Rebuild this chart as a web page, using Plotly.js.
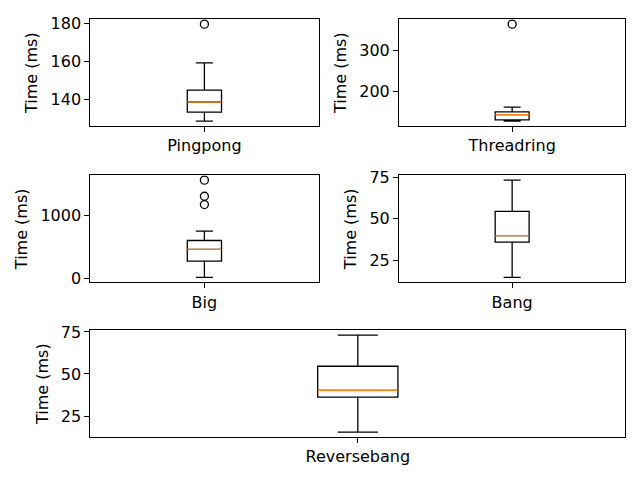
<!DOCTYPE html>
<html>
<head>
<meta charset="utf-8">
<script src="https://cdn.plot.ly/plotly-3.0.1.min.js"></script>
<style>html,body{margin:0;padding:0;background:#fff;}#chart{width:640px;height:480px;}</style>
</head>
<body>
<div id="chart"></div>
<script>
const categories = ['Pingpong', 'Threadring', 'Big', 'Bang', 'Reversebang'];
const q1Values = [133.5, 129.5, 271, 36.1, 36.2];
const medianValues = [138.8, 142.5, 458, 39.9, 40.3];
const q3Values = [145, 149, 601, 54.5, 54.6];
const lowerWhiskers = [128.8, 126.3, 11, 14.9, 15.4];
const upperWhiskers = [159.3, 160.7, 750, 73.2, 73.1];
const outlierValues = [[179.5], [365], [1175, 1308, 1565], [], []];
const yTickSteps = [20, 100, 1000, 25, 25];

const W = 640, H = 480;
// panel placement in pixels [left, right, top, bottom]
const panels = [
  [90.3, 318.5, 19.3, 126],
  [399, 625.3, 19.3, 126],
  [90.3, 318.5, 175.3, 282.3],
  [399, 625.3, 175.3, 282.3],
  [90.3, 625.3, 330.3, 437]
];

const traces = [];
const layout = {
  width: W, height: H,
  margin: {l: 0, r: 0, t: 0, b: 0},
  paper_bgcolor: '#ffffff',
  plot_bgcolor: '#ffffff',
  showlegend: false,
  boxmode: 'overlay',
  font: {family: 'DejaVu Sans', size: 16, color: '#000000'}
};

categories.forEach((cat, i) => {
  const sfx = i === 0 ? '' : String(i + 1);
  const xa = 'x' + sfx, ya = 'y' + sfx;
  traces.push({
    type: 'box', xaxis: xa, yaxis: ya,
    x: [1], q1: [q1Values[i]], median: [medianValues[i]], q3: [q3Values[i]],
    lowerfence: [lowerWhiskers[i]], upperfence: [upperWhiskers[i]],
    width: 0.15, whiskerwidth: 0.5, boxpoints: false,
    fillcolor: 'rgba(0,0,0,0)', line: {color: '#000000', width: 1.3},
    hoverinfo: 'skip'
  });
  traces.push({
    type: 'box', xaxis: xa, yaxis: ya,
    x: [1], q1: [medianValues[i]], median: [medianValues[i]], q3: [medianValues[i]],
    lowerfence: [medianValues[i]], upperfence: [medianValues[i]],
    width: 0.15, whiskerwidth: 0, boxpoints: false,
    fillcolor: 'rgba(0,0,0,0)', line: {color: '#ff7f0e', width: 1.3},
    hoverinfo: 'skip'
  });
  if (outlierValues[i].length) {
    traces.push({
      type: 'scatter', mode: 'markers', xaxis: xa, yaxis: ya,
      x: outlierValues[i].map(() => 1), y: outlierValues[i],
      marker: {symbol: 'circle-open', size: 8, color: '#000000', line: {width: 1.3, color: '#000000'}},
      hoverinfo: 'skip'
    });
  }
  const all = [lowerWhiskers[i], upperWhiskers[i]].concat(outlierValues[i]);
  const lo = Math.min(...all), hi = Math.max(...all);
  const pad = 0.05 * (hi - lo);
  const p = panels[i];
  layout['xaxis' + sfx] = {
    domain: [p[0] / W, p[1] / W], anchor: ya,
    range: [0.5, 1.5], tickvals: [1], ticktext: [cat],
    ticks: 'outside', ticklen: 5, tickwidth: 1, tickcolor: '#000000',
    showline: true, linecolor: '#000000', linewidth: 1, mirror: true,
    showgrid: false, zeroline: false, fixedrange: true,
    tickfont: {size: 16}
  };
  layout['yaxis' + sfx] = {
    domain: [1 - p[3] / H, 1 - p[2] / H], anchor: xa,
    range: [lo - pad, hi + pad], dtick: yTickSteps[i], tick0: 0,
    ticks: 'outside', ticklen: 5, tickwidth: 1, tickcolor: '#000000',
    showline: true, linecolor: '#000000', linewidth: 1, mirror: true,
    showgrid: false, zeroline: false, fixedrange: true,
    exponentformat: 'none', separatethousands: false,
    tickfont: {size: 16},
    title: {text: 'Time (ms)', font: {size: 16}, standoff: 8}
  };
});

Plotly.newPlot('chart', traces, layout, {staticPlot: true, displayModeBar: false});
</script>
</body>
</html>
